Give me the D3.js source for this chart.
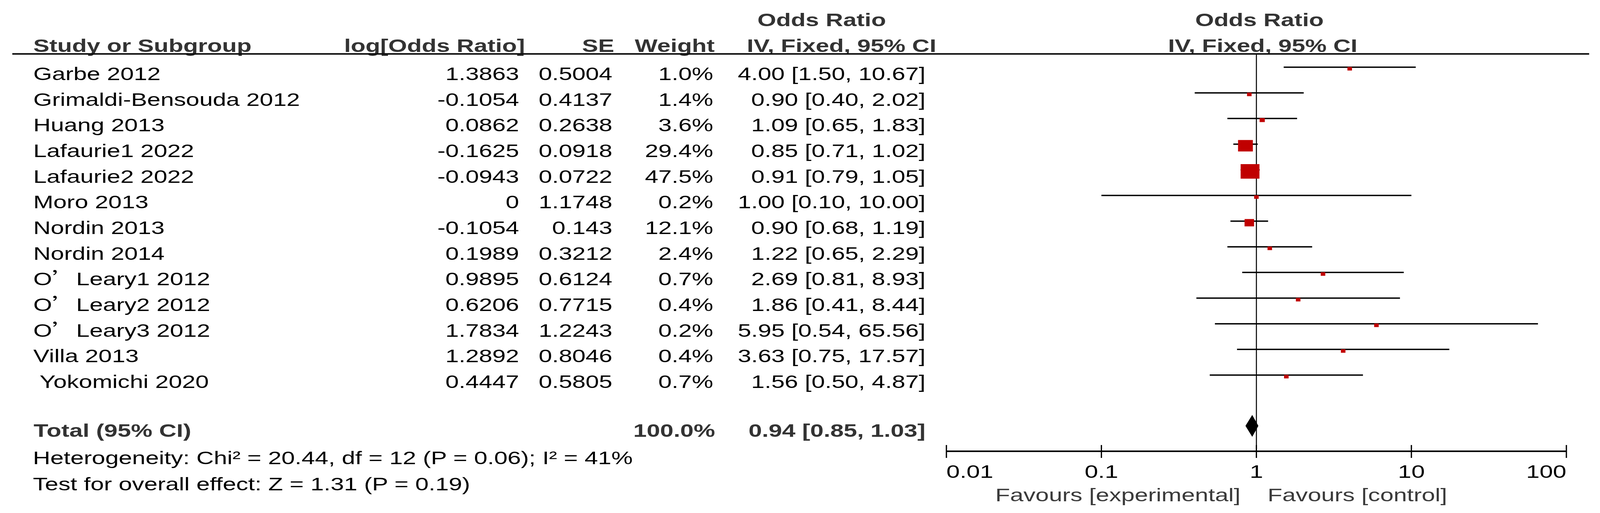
<!DOCTYPE html>
<html lang="en">
<head>
    <meta charset="UTF-8">
    <title>Forest plot: Odds Ratio, IV, Fixed</title>
    <script src="https://d3js.org/d3.v7.min.js"></script>
    <style>
        html, body { margin: 0; padding: 0; background: #fff; overflow: hidden; }
        svg { display: block; width: 100vw; height: 100vh; }
        text { font-family: "Liberation Sans", Arial, sans-serif; font-size: 46px; white-space: pre; }
        .hd { font-weight: bold; fill: #333; }
    </style>
</head>
<body>
<svg viewBox="0 0 4426 1313" preserveAspectRatio="none"></svg>
<script type="text/javascript">
    // study data
    let studies = ["Garbe 2012", "Grimaldi-Bensouda 2012", "Huang 2013", "Lafaurie1 2022", "Lafaurie2 2022",
        "Moro 2013", "Nordin 2013", "Nordin 2014", "O’Leary1 2012", "O’Leary2 2012", "O’Leary3 2012",
        "Villa 2013", " Yokomichi 2020"];
    let logOR = [1.3863, -0.1054, 0.0862, -0.1625, -0.0943, 0, -0.1054, 0.1989, 0.9895, 0.6206, 1.7834, 1.2892, 0.4447];
    let se = [0.5004, 0.4137, 0.2638, 0.0918, 0.0722, 1.1748, 0.143, 0.3212, 0.6124, 0.7715, 1.2243, 0.8046, 0.5805];
    let weight = [1.0, 1.4, 3.6, 29.4, 47.5, 0.2, 12.1, 2.4, 0.7, 0.4, 0.2, 0.4, 0.7];
    let oddsRatio = [4.00, 0.90, 1.09, 0.85, 0.91, 1.00, 0.90, 1.22, 2.69, 1.86, 5.95, 3.63, 1.56];
    let ciLow = [1.50, 0.40, 0.65, 0.71, 0.79, 0.10, 0.68, 0.65, 0.81, 0.41, 0.54, 0.75, 0.50];
    let ciHigh = [10.67, 2.02, 1.83, 1.02, 1.05, 10.00, 1.19, 2.29, 8.93, 8.44, 65.56, 17.57, 4.87];

    // pooled result
    let total = {weight: 100.0, or: 0.94, lo: 0.85, hi: 1.03};
    let heterogeneity = "Heterogeneity: Chi² = 20.44, df = 12 (P = 0.06); I² = 41%";
    let overallTest = "Test for overall effect: Z = 1.31 (P = 0.19)";

    let ticks = [0.01, 0.1, 1, 10, 100];
    let favourLeft = "Favours [experimental]";
    let favourRight = "Favours [control]";

    const SX = 1.45; // the picture is stretched sideways

    let svg = d3.select("svg");

    let x = d3.scaleLog().domain([0.01, 100]).range([2618, 4333]);
    let y = d3.scaleLinear().domain([0, studies.length - 1]).range([205, 993]);

    function txt(str, px, py, anchor, cls) {
        let t = svg.append("text")
            .attr("transform", `translate(${px},${py}) scale(${SX},1)`)
            .attr("text-anchor", anchor || "start");
        if (cls) t.attr("class", cls);
        t.text(str);
        return t;
    }

    // headers
    txt("Odds Ratio", 2273, 67, "middle", "hd");
    txt("Odds Ratio", 3484, 67, "middle", "hd");
    txt("Study or Subgroup", 92, 133, "start", "hd");
    txt("log[Odds Ratio]", 1452, 133, "end", "hd");
    txt("SE", 1699, 133, "end", "hd");
    txt("Weight", 1977, 133, "end", "hd");
    txt("IV, Fixed, 95% CI", 2328, 133, "middle", "hd");
    txt("IV, Fixed, 95% CI", 3493, 133, "middle", "hd");

    svg.append("line")
        .attr("x1", 34).attr("x2", 4396)
        .attr("y1", 138).attr("y2", 138)
        .style("stroke", "#111").style("stroke-width", 4);

    // line of no effect
    svg.append("line")
        .attr("x1", x(1)).attr("x2", x(1))
        .attr("y1", 138).attr("y2", 1155)
        .style("stroke", "#111").style("stroke-width", 3);

    // table rows
    studies.forEach((name, i) => {
        let by = y(i);
        if (name.indexOf("’") >= 0) {
            let parts = name.split("’");
            let t = txt("", 92, by, "start");
            t.append("tspan").text(parts[0]);
            t.append("tspan").style("font-family", "'Noto Sans CJK SC'").text("’");
            t.append("tspan").text(parts[1]);
        } else {
            txt(name, 92, by, "start");
        }
        txt(String(logOR[i]), 1436, by, "end");
        txt(String(se[i]), 1694, by, "end");
        txt(weight[i].toFixed(1) + "%", 1973, by, "end");
        txt(`${oddsRatio[i].toFixed(2)} [${ciLow[i].toFixed(2)}, ${ciHigh[i].toFixed(2)}]`, 2560, by, "end");
    });

    // CI lines
    svg.append("g").selectAll("line")
        .data(studies.map((d, i) => i))
        .join("line")
        .attr("x1", i => x(ciLow[i]))
        .attr("x2", i => x(ciHigh[i]))
        .attr("y1", i => y(i) - 33)
        .attr("y2", i => y(i) - 33)
        .style("stroke", "#000")
        .style("stroke-width", 3.5);

    // weight squares
    let side = w => Math.max(9, 5.4 * Math.sqrt(w));
    svg.append("g").selectAll("rect")
        .data(studies.map((d, i) => i))
        .join("rect")
        .attr("x", i => x(oddsRatio[i]) - side(weight[i]) * 0.7)
        .attr("y", i => y(i) - 29 - side(weight[i]) / 2)
        .attr("width", i => side(weight[i]) * 1.4)
        .attr("height", i => side(weight[i]))
        .style("fill", "#c00000");

    // total
    txt("Total (95% CI)", 93, 1118, "start", "hd");
    txt(total.weight.toFixed(1) + "%", 1978, 1118, "end", "hd");
    txt(`${total.or.toFixed(2)} [${total.lo.toFixed(2)}, ${total.hi.toFixed(2)}]`, 2560, 1118, "end", "hd");
    svg.append("path")
        .attr("d", `M${x(total.lo)},1090 L${x(total.or)},1062 L${x(total.hi)},1090 L${x(total.or)},1118 Z`)
        .style("fill", "#000");

    txt(heterogeneity, 91, 1188, "start");
    txt(overallTest, 91, 1255, "start");

    // axis
    svg.append("line")
        .attr("x1", x(0.01)).attr("x2", x(100))
        .attr("y1", 1155).attr("y2", 1155)
        .style("stroke", "#000").style("stroke-width", 4);
    svg.append("g").selectAll("line")
        .data(ticks)
        .join("line")
        .attr("x1", d => x(d)).attr("x2", d => x(d))
        .attr("y1", 1139).attr("y2", 1172)
        .style("stroke", "#000").style("stroke-width", 3.5);
    ticks.forEach((t, i) => {
        let anchor = i === 0 ? "start" : (i === ticks.length - 1 ? "end" : "middle");
        txt(String(t), x(t), 1223, anchor);
    });

    txt(favourLeft, x(1) - 44, 1283, "end").style("fill", "#3a3a3a");
    txt(favourRight, x(1) + 31, 1283, "start").style("fill", "#3a3a3a");
</script>
</body>
</html>
